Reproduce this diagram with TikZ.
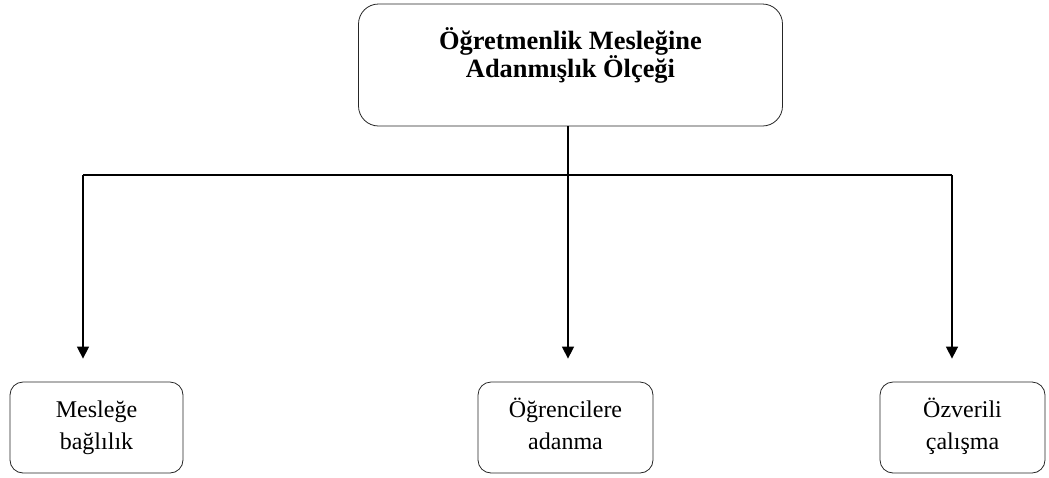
\documentclass[tikz,border=0pt]{standalone}
\usepackage{fontspec}
\setmainfont{Liberation Serif}
\usepackage{tikz}
\usetikzlibrary{arrows.meta,positioning}

\begin{document}
\begin{tikzpicture}[
  x=0.5pt,y=-0.5pt,
  topbox/.style={draw=black!85,rounded corners=10pt,minimum width=212pt,minimum height=61pt,align=center,font=\bfseries\fontsize{13.2}{14}\selectfont,text depth=12pt},
  box/.style={draw=black!85,rounded corners=6.5pt,minimum height=45.5pt,align=center,font=\fontsize{12}{16}\selectfont,text height=25pt,text depth=3pt},
  line/.style={line width=0.75pt},
  bus/.style={line width=1.1pt},
  arrow/.style={-{Triangle[length=6pt,width=6pt]},line width=0.75pt,shorten >=11.5pt}
]
\useasboundingbox (0,0) rectangle (1049,477);
\node[topbox] (scale) at (570.5,65) {Öğretmenlik Mesleğine\\Adanmışlık Ölçeği};
\node[box,minimum width=86.5pt] (bond) at (96.5,427.5) {Mesleğe\\bağlılık};
\node[box,minimum width=87.5pt] (devote) at (565.5,427.5) {Öğrencilere\\adanma};
\node[box,minimum width=82.5pt] (sacrifice) at (962.5,427.5) {Özverili\\çalışma};
\coordinate (hub) at (568,175);
\coordinate (left) at (83,175);
\coordinate (right) at (952,175);
\draw[line] (scale.south -| hub) -- (hub);
\draw[bus] (left) -- (right);
\draw[arrow] (left) -- (left |- bond.north);
\draw[arrow] (hub) -- (hub |- devote.north);
\draw[arrow] (right) -- (right |- sacrifice.north);
\end{tikzpicture}
\end{document}
